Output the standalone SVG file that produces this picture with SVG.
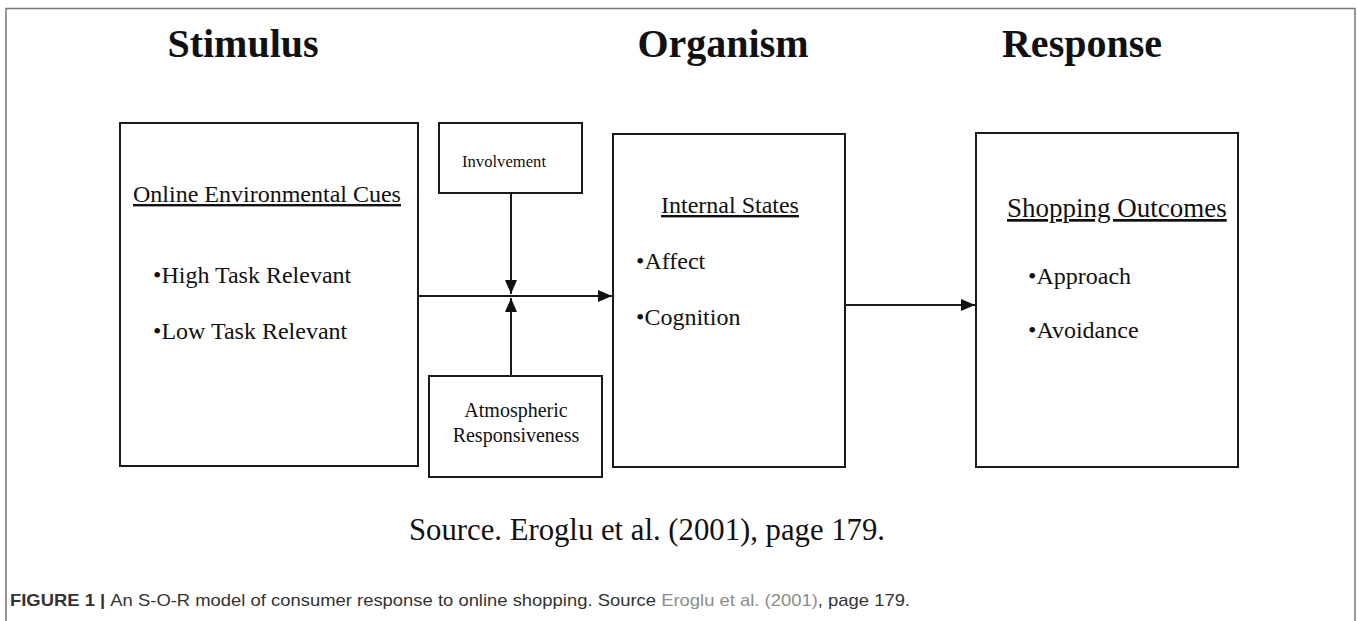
<svg xmlns="http://www.w3.org/2000/svg" width="1357" height="621" viewBox="0 0 1357 621">
<style>
.box{fill:#fff;stroke:#1a1a1a;stroke-width:2}
.title{font-family:"Liberation Serif",serif;font-weight:bold;font-size:40px;fill:#111;text-anchor:middle}
.t{font-family:"Liberation Serif",serif;font-size:24px;fill:#111}
.u{text-decoration:underline}
.conn{stroke:#1a1a1a;stroke-width:2;fill:none}
.cap{font-family:"Liberation Sans",Arial,sans-serif;font-size:17px;fill:#333}
</style>
<defs>
<marker id="arr" markerWidth="14" markerHeight="12" refX="14" refY="6" orient="auto" markerUnits="userSpaceOnUse">
<path d="M0,0 L14,6 L0,12 Z" fill="#111"/>
</marker>
</defs>
<rect width="1357" height="621" fill="#fff"/>
<path d="M6,621 V8.5 H1355 V621" fill="none" stroke="#777" stroke-width="1.5"/>

<g id="headers">
<text class="title" x="243" y="57">Stimulus</text>
<text class="title" x="723" y="57">Organism</text>
<text class="title" x="1082" y="57">Response</text>
</g>

<g id="node-stimulus">
<rect class="box" x="120" y="123" width="298" height="343"/>
<text class="t u" x="133" y="202">Online Environmental Cues</text>
<text class="t" x="153" y="283">•High Task Relevant</text>
<text class="t" x="153" y="339">•Low Task Relevant</text>
</g>

<g id="node-involvement">
<rect class="box" x="439" y="123" width="143" height="70"/>
<text class="t" x="504" y="167" style="font-size:17px" textLength="84" lengthAdjust="spacingAndGlyphs" text-anchor="middle">Involvement</text>
</g>

<g id="node-atmospheric">
<rect class="box" x="429" y="376" width="173" height="101"/>
<text class="t" x="516" y="417" style="font-size:20px" text-anchor="middle">Atmospheric</text>
<text class="t" x="516" y="442" style="font-size:20px" text-anchor="middle">Responsiveness</text>
</g>

<g id="node-organism">
<rect class="box" x="613" y="134" width="232" height="333"/>
<text class="t u" x="661" y="213">Internal States</text>
<text class="t" x="636" y="269">•Affect</text>
<text class="t" x="636" y="325">•Cognition</text>
</g>

<g id="node-response">
<rect class="box" x="976" y="133" width="262" height="334"/>
<text class="t u" x="1007" y="217" style="font-size:27px">Shopping Outcomes</text>
<text class="t" x="1028" y="284">•Approach</text>
<text class="t" x="1028" y="338">•Avoidance</text>
</g>

<g id="connectors">
<line class="conn" x1="418" y1="296" x2="612" y2="296" marker-end="url(#arr)"/>
<line class="conn" x1="511" y1="194" x2="511" y2="294" marker-end="url(#arr)"/>
<line class="conn" x1="511" y1="376" x2="511" y2="298" marker-end="url(#arr)"/>
<line class="conn" x1="845" y1="305" x2="975" y2="305" marker-end="url(#arr)"/>
</g>

<g id="source">
<text class="t" x="409" y="540" style="font-size:32px" textLength="476" lengthAdjust="spacingAndGlyphs">Source. Eroglu et al. (2001), page 179.</text>
</g>

<g id="caption">
<text class="cap" x="10" y="606" textLength="900" lengthAdjust="spacingAndGlyphs"><tspan font-weight="bold">FIGURE 1 | </tspan>An S-O-R model of consumer response to online shopping. Source <tspan fill="#8c8c8c">Eroglu et al. (2001)</tspan>, page 179.</text>
</g>
</svg>
